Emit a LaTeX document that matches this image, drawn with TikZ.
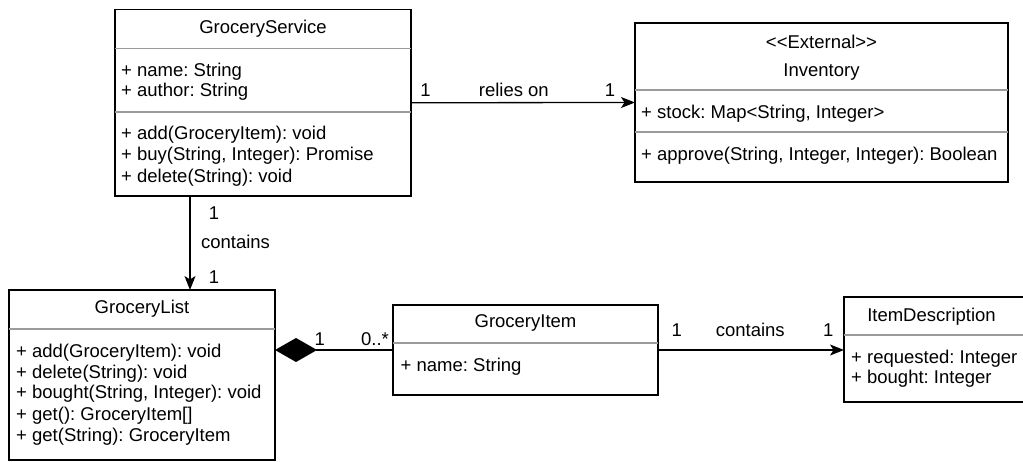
\documentclass[tikz,border=0pt]{standalone}
\usepackage{fontspec}
\setmainfont{Liberation Sans}
\usetikzlibrary{arrows.meta}
\definecolor{sepgray}{RGB}{155,155,155}
\newcommand\umlfont{\fontsize{18.5}{22}\selectfont\frenchspacing}
\begin{document}
\begin{tikzpicture}[x=1pt,y=-1pt,
  cls/.style={draw=black,line width=1.3pt,fill=white,inner sep=0pt,outer sep=0pt},
  sepline/.style={draw=sepgray,line width=1.3pt},
  ttl/.style={anchor=base,inner sep=0pt,font=\umlfont},
  mem/.style={anchor=base west,inner sep=0pt,font=\umlfont},
  lbl/.style={anchor=base,inner sep=0pt,font=\umlfont},
  assoc/.style={draw=black,line width=1.3pt,-{Stealth[length=14pt,width=11pt,inset=3.5pt]}},
  comp/.style={draw=black,line width=1.3pt,{Diamond[length=42pt,width=24pt]}-}]
\useasboundingbox (0,0) rectangle (1023,462);

% class boxes
\node[cls,minimum width=296pt,minimum height=186.5pt] (gs) at (263,102.75) {};
\node[cls,minimum width=373pt,minimum height=159pt] (inv) at (821.5,102.5) {};
\node[cls,minimum width=266pt,minimum height=170pt] (gl) at (142,375) {};
\node[cls,minimum width=265pt,minimum height=90pt] (gi) at (525.5,350) {};
\node[cls,minimum width=181pt,minimum height=105pt] (id) at (934.5,349.5) {};

% compartment separators
\draw[sepline] (gs.west |- 0,48.3) -- (gs.east |- 0,48.3);
\draw[sepline] (gs.west |- 0,112) -- (gs.east |- 0,112);
\draw[sepline] (inv.west |- 0,90) -- (inv.east |- 0,90);
\draw[sepline] (inv.west |- 0,132) -- (inv.east |- 0,132);
\draw[sepline] (gl.west |- 0,329) -- (gl.east |- 0,329);
\draw[sepline] (gi.west |- 0,343) -- (gi.east |- 0,343);
\draw[sepline] (id.west |- 0,335) -- (id.east |- 0,335);

% GroceryService
\node[ttl] (gs-t) at (263,34) {GroceryService};
\node[mem] (gs-a1) at (121,76.7) {+ name: String};
\node[mem] (gs-a2) at (121,96.7) {+ author: String};
\node[mem] (gs-m1) at (121,139.8) {+ add(GroceryItem): void};
\node[mem] (gs-m2) at (121,161) {+ buy(String, Integer): Promise};
\node[mem] (gs-m3) at (121,182.2) {+ delete(String): void};

% Inventory
\node[ttl] (inv-s) at (821.5,48.3) {<\kern0pt<External>\kern0pt>};
\node[ttl] (inv-t) at (821.5,76.7) {Inventory};
\node[mem] (inv-a1) at (641,118.5) {+ stock: Map<String, Integer>};
\node[mem] (inv-m1) at (641,160.5) {+ approve(String, Integer, Integer): Boolean};

% GroceryList
\node[ttl] (gl-t) at (142,313.3) {GroceryList};
\node[mem] (gl-m1) at (16,357) {+ add(GroceryItem): void};
\node[mem] (gl-m2) at (16,378) {+ delete(String): void};
\node[mem] (gl-m3) at (16,399) {+ bought(String, Integer): void};
\node[mem] (gl-m4) at (16,420) {+ get(): GroceryItem[]};
\node[mem] (gl-m5) at (16,441.5) {+ get(String): GroceryItem};

% GroceryItem
\node[ttl] (gi-t) at (525.5,327.5) {GroceryItem};
\node[mem] (gi-a1) at (400.5,371.5) {+ name: String};

% ItemDescription
\node[ttl] (id-t) at (931.5,321.7) {ItemDescription};
\node[mem] (id-a1) at (851,363.5) {+ requested: Integer};
\node[mem] (id-a2) at (851,384) {+ bought: Integer};

% relations
\draw[assoc] (gs.east) -- (inv.west);
\node[lbl] (r1-a) at (425.5,96.5) {1};
\node[lbl] (r1-l) at (513.8,96.5) {relies on};
\node[lbl] (r1-b) at (610,96.5) {1};

\coordinate (vx) at (190,0);
\draw[assoc] (gs.south -| vx) -- (gl.north -| vx);
\node[lbl] (r2-a) at (214,220) {1};
\node[lbl] (r2-l) at (235.5,249) {contains};
\node[lbl] (r2-b) at (214,284) {1};

\draw[comp] (gl.east |- gi.west) -- (gi.west);
\node[lbl] (r3-a) at (319.7,345.5) {1};
\node[lbl] (r3-b) at (375,345.5) {0..*};

\draw[assoc] (gi.east) -- (id.west |- gi.east);
\node[lbl] (r4-a) at (676.7,337) {1};
\node[lbl] (r4-l) at (750.3,337) {contains};
\node[lbl] (r4-b) at (828.3,337) {1};
\end{tikzpicture}
\end{document}
